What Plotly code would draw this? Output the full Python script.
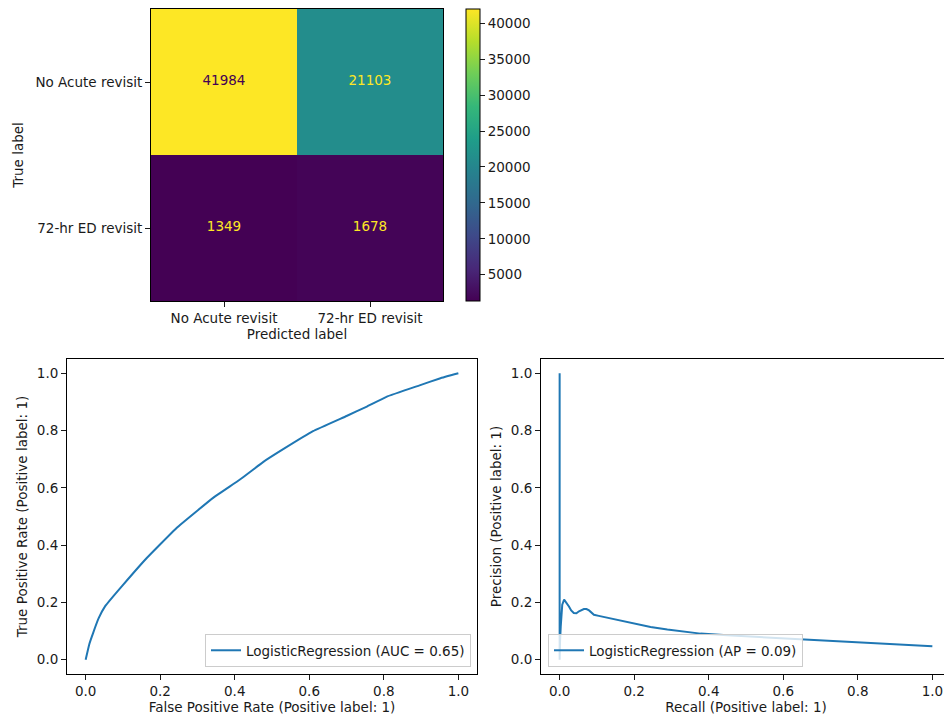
import plotly.graph_objects as go

# ---------------- data ----------------
classes = ["No Acute revisit", "72-hr ED revisit"]
cm_values = [[41984, 21103], [1349, 1678]]
cbar_ticks = [5000, 10000, 15000, 20000, 25000, 30000, 35000, 40000]

fpr = [0.0, 0.010, 0.020, 0.035, 0.052, 0.101, 0.164, 0.244, 0.342, 0.414, 0.476,
       0.530, 0.610, 0.700, 0.753, 0.807, 0.896, 0.950, 1.0]
tpr = [0.0, 0.055, 0.093, 0.145, 0.186, 0.262, 0.355, 0.460, 0.565, 0.629, 0.690,
       0.735, 0.798, 0.851, 0.883, 0.918, 0.958, 0.982, 1.0]

recall = [0.0, 0.0, 0.001, 0.003, 0.007, 0.012, 0.018, 0.025, 0.031, 0.038, 0.045,
          0.052, 0.065, 0.072, 0.079, 0.092, 0.105, 0.119, 0.155, 0.199, 0.244,
          0.289, 0.333, 0.378, 0.450, 0.520, 0.592, 0.680, 0.771, 0.860, 0.930, 1.0]
precision = [1.0, 0.0, 0.060, 0.117, 0.192, 0.210, 0.200, 0.186, 0.172, 0.163, 0.162,
             0.169, 0.177, 0.177, 0.172, 0.157, 0.153, 0.149, 0.140, 0.128, 0.114,
             0.105, 0.097, 0.091, 0.085, 0.080, 0.076, 0.070, 0.064, 0.057, 0.052, 0.047]

roc_label = "LogisticRegression (AUC = 0.65)"
pr_label = "LogisticRegression (AP = 0.09)"

# ---------------- layout helpers ----------------
OFF = 8                      # default page body margin
W, H = 952 - OFF, 720 - OFF  # figure size
def xd(a, b):
    return [(a - OFF) / W, (b - OFF) / W]
def yd(top, bottom):
    return [1 - (bottom - OFF) / H, 1 - (top - OFF) / H]

FONT = "DejaVu Sans"
FS = 13.5
TXT = "#1a1a1a"
BLUE = "#1f77b4"

fig = go.Figure()

# confusion matrix
zmin = min(min(r) for r in cm_values)
zmax = max(max(r) for r in cm_values)
thresh = (zmin + zmax) / 2
fig.add_trace(go.Heatmap(
    z=cm_values, x=classes, y=classes, colorscale="Viridis",
    zmin=zmin, zmax=zmax, xaxis="x", yaxis="y", showscale=True, hoverinfo="z",
    colorbar=dict(
        x=(466 - OFF) / W, xanchor="left", y=1 - (9 - OFF) / H, yanchor="top",
        lenmode="pixels", len=292, thickness=14, thicknessmode="pixels",
        outlinecolor="black", outlinewidth=1,
        tickvals=cbar_ticks, tickformat="d", ticks="outside", ticklen=5, tickcolor=TXT,
        tickfont=dict(family=FONT, size=FS, color=TXT), xpad=0, ypad=0,
    ),
))
tx, ty, tt, tc = [], [], [], []
for i, row in enumerate(cm_values):
    for j, v in enumerate(row):
        tx.append(classes[j]); ty.append(classes[i]); tt.append(str(v))
        tc.append("#440154" if v > thresh else "#fde725")
fig.add_trace(go.Scatter(
    x=tx, y=ty, text=tt, mode="text", textfont=dict(family=FONT, size=FS, color=tc),
    xaxis="x", yaxis="y", showlegend=False, hoverinfo="skip",
))

# ROC
fig.add_trace(go.Scatter(
    x=fpr, y=tpr, mode="lines", line=dict(color=BLUE, width=2, shape="spline", smoothing=0.3),
    name=roc_label, xaxis="x2", yaxis="y2", legend="legend",
))
# PR
fig.add_trace(go.Scatter(
    x=recall, y=precision, mode="lines", line=dict(color=BLUE, width=2),
    name=pr_label, xaxis="x3", yaxis="y3", legend="legend2",
))

axis_common = dict(
    showline=True, mirror=True, linecolor="black", linewidth=1,
    ticks="outside", ticklen=5, tickcolor=TXT, showgrid=False, zeroline=False,
    tickfont=dict(family=FONT, size=FS, color=TXT),
)
num_ticks = [0.0, 0.2, 0.4, 0.6, 0.8, 1.0]
tfont = dict(family=FONT, size=FS, color=TXT)

fig.update_layout(
    width=W, height=H, margin=dict(l=0, r=0, t=0, b=0),
    paper_bgcolor="white", plot_bgcolor="white",
    font=dict(family=FONT, size=FS, color=TXT),
    xaxis=dict(axis_common, domain=xd(151, 443), anchor="y", type="category",
               range=[-0.5, 1.5],
               title=dict(text="Predicted label", standoff=3, font=tfont)),
    yaxis=dict(axis_common, domain=yd(9, 301), anchor="x", type="category",
               range=[1.5, -0.5],
               title=dict(text="True label", standoff=8, font=tfont)),
    xaxis2=dict(axis_common, domain=xd(67, 477), anchor="y2", range=[-0.05, 1.05],
                tickvals=num_ticks, tickformat=".1f",
                title=dict(text="False Positive Rate (Positive label: 1)", standoff=3, font=tfont)),
    yaxis2=dict(axis_common, domain=yd(359, 674), anchor="x2", range=[-0.05, 1.05],
                tickvals=num_ticks, tickformat=".1f",
                title=dict(text="True Positive Rate (Positive label: 1)", standoff=6, font=tfont)),
    xaxis3=dict(axis_common, domain=xd(541, 951), anchor="y3", range=[-0.05, 1.05],
                tickvals=num_ticks, tickformat=".1f",
                title=dict(text="Recall (Positive label: 1)", standoff=3, font=tfont)),
    yaxis3=dict(axis_common, domain=yd(359, 674), anchor="x3", range=[-0.05, 1.05],
                tickvals=num_ticks, tickformat=".1f",
                title=dict(text="Precision (Positive label: 1)", standoff=6, font=tfont)),
    legend=dict(x=(471 - OFF) / W, xanchor="right", y=1 - (667 - OFF) / H, yanchor="bottom",
                bgcolor="rgba(255,255,255,0.8)", bordercolor="#cccccc", borderwidth=1,
                font=tfont, itemwidth=30),
    legend2=dict(x=(548 - OFF) / W, xanchor="left", y=1 - (667 - OFF) / H, yanchor="bottom",
                 bgcolor="rgba(255,255,255,0.8)", bordercolor="#cccccc", borderwidth=1,
                 font=tfont, itemwidth=30),
    showlegend=True,
)

fig.write_html("out.html")
